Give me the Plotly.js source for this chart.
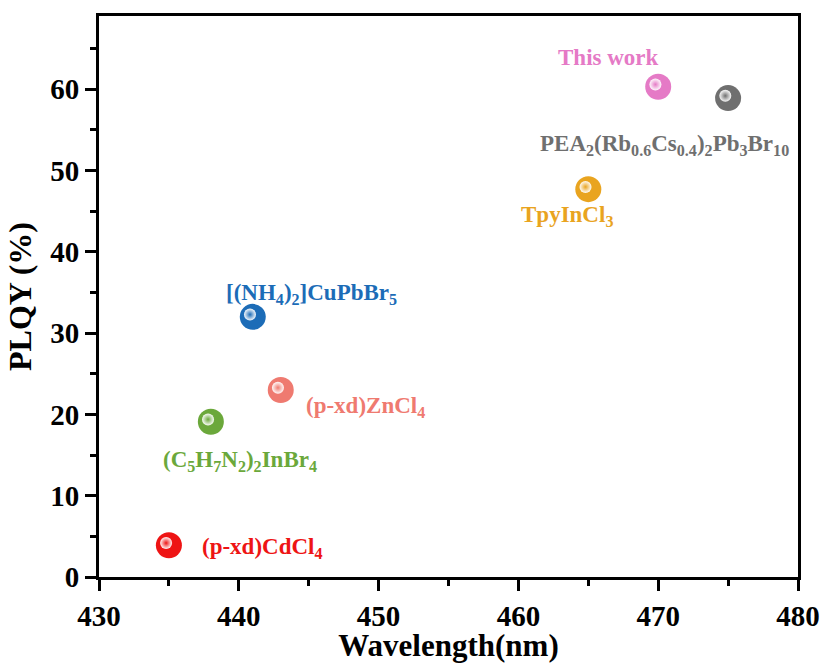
<!DOCTYPE html>
<html>
<head>
<meta charset="utf-8">
<script src="https://cdn.plot.ly/plotly-3.0.1.min.js"></script>
<style>html,body{margin:0;padding:0;background:#fff;}#chart{width:826px;height:663px;}</style>
</head>
<body>
<div id="chart"></div>
<script>
// ---- data ----
const materials = ["This work", "PEA2(Rb0.6Cs0.4)2Pb3Br10", "TpyInCl3", "[(NH4)2]CuPbBr5", "(p-xd)ZnCl4", "(C5H7N2)2InBr4", "(p-xd)CdCl4"];
const labels = [
  "This work",
  "PEA<sub>2</sub>(Rb<sub>0.6</sub>Cs<sub>0.4</sub>)<sub>2</sub>Pb<sub>3</sub>Br<sub>10</sub>",
  "TpyInCl<sub>3</sub>",
  "[(NH<sub>4</sub>)<sub>2</sub>]CuPbBr<sub>5</sub>",
  "(p-xd)ZnCl<sub>4</sub>",
  "(C<sub>5</sub>H<sub>7</sub>N<sub>2</sub>)<sub>2</sub>InBr<sub>4</sub>",
  "(p-xd)CdCl<sub>4</sub>"
];
const wavelength = [470, 475, 465, 441, 443, 438, 435];
const plqy = [60.3, 58.9, 47.7, 32.0, 23.0, 19.1, 3.9];

// ---- styles ----
const colors = ["#E57AC6", "#6F6F6F", "#E9A41F", "#1C6CB7", "#EF7A70", "#6BA83B", "#EE1414"];
const labelShift = [[-50, 29], [-64, -47], [-21, -27], [59, 23], [85, -17], [29, -39], [94, -3]];
const serif = "Liberation Serif, Times New Roman, serif";
const xRange = [430, 480], yRange = [0, 69];
// highlight axes: same scale, shifted a few pixels so the glint sits up-left
const hlShiftX = 0.2, hlShiftY = -0.28;

const spheres = wavelength.map((w, i) => ({
  type: "scatter", mode: "markers",
  x: [w], y: [plqy[i]], name: materials[i],
  marker: {size: 26, color: colors[i], line: {width: 0}},
  hoverinfo: "x+y+name"
}));
const highlights = wavelength.map((w, i) => ({
  type: "scatter", mode: "markers",
  x: [w], y: [plqy[i]], xaxis: "x2", yaxis: "y2", name: materials[i],
  marker: {size: 12, color: "rgba(255,255,255,0.95)", line: {width: 0},
           gradient: {type: "radial", color: colors[i]}},
  hoverinfo: "skip"
}));

const annotations = wavelength.map((w, i) => ({
  x: w, y: plqy[i], xref: "x", yref: "y", text: "<b>" + labels[i] + "</b>",
  showarrow: false, xshift: labelShift[i][0], yshift: labelShift[i][1],
  font: {family: serif, size: 23, color: colors[i]}
}));

const axisCommon = {
  showline: true, linecolor: "#000", linewidth: 3, mirror: true,
  ticks: "outside", ticklen: 11, tickwidth: 3, tickcolor: "#000",
  showgrid: false, zeroline: false,
  tickfont: {family: serif, size: 29, color: "#000", weight: "bold"},
  minor: {ticks: "outside", ticklen: 6, tickwidth: 3, tickcolor: "#000", dtick: 5, showgrid: false}
};

const layout = {
  width: 826, height: 663,
  margin: {l: 99, r: 28, t: 16, b: 86},
  paper_bgcolor: "#fff", plot_bgcolor: "#fff",
  showlegend: false,
  xaxis: Object.assign({}, axisCommon, {
    range: xRange, dtick: 10, tick0: 430,
    title: {text: "<b>Wavelength(nm)</b>", standoff: 7,
            font: {family: serif, size: 31, color: "#000"}}
  }),
  yaxis: Object.assign({}, axisCommon, {
    range: yRange, dtick: 10, tick0: 0,
    title: {text: "<b>PLQY (%)</b>", standoff: 10,
            font: {family: serif, size: 32, color: "#000"}}
  }),
  xaxis2: {overlaying: "x", range: [xRange[0] + hlShiftX, xRange[1] + hlShiftX], visible: false},
  yaxis2: {overlaying: "y", range: [yRange[0] + hlShiftY, yRange[1] + hlShiftY], visible: false},
  annotations: annotations
};

Plotly.newPlot("chart", spheres.concat(highlights), layout, {displayModeBar: false, staticPlot: true});
</script>
</body>
</html>
